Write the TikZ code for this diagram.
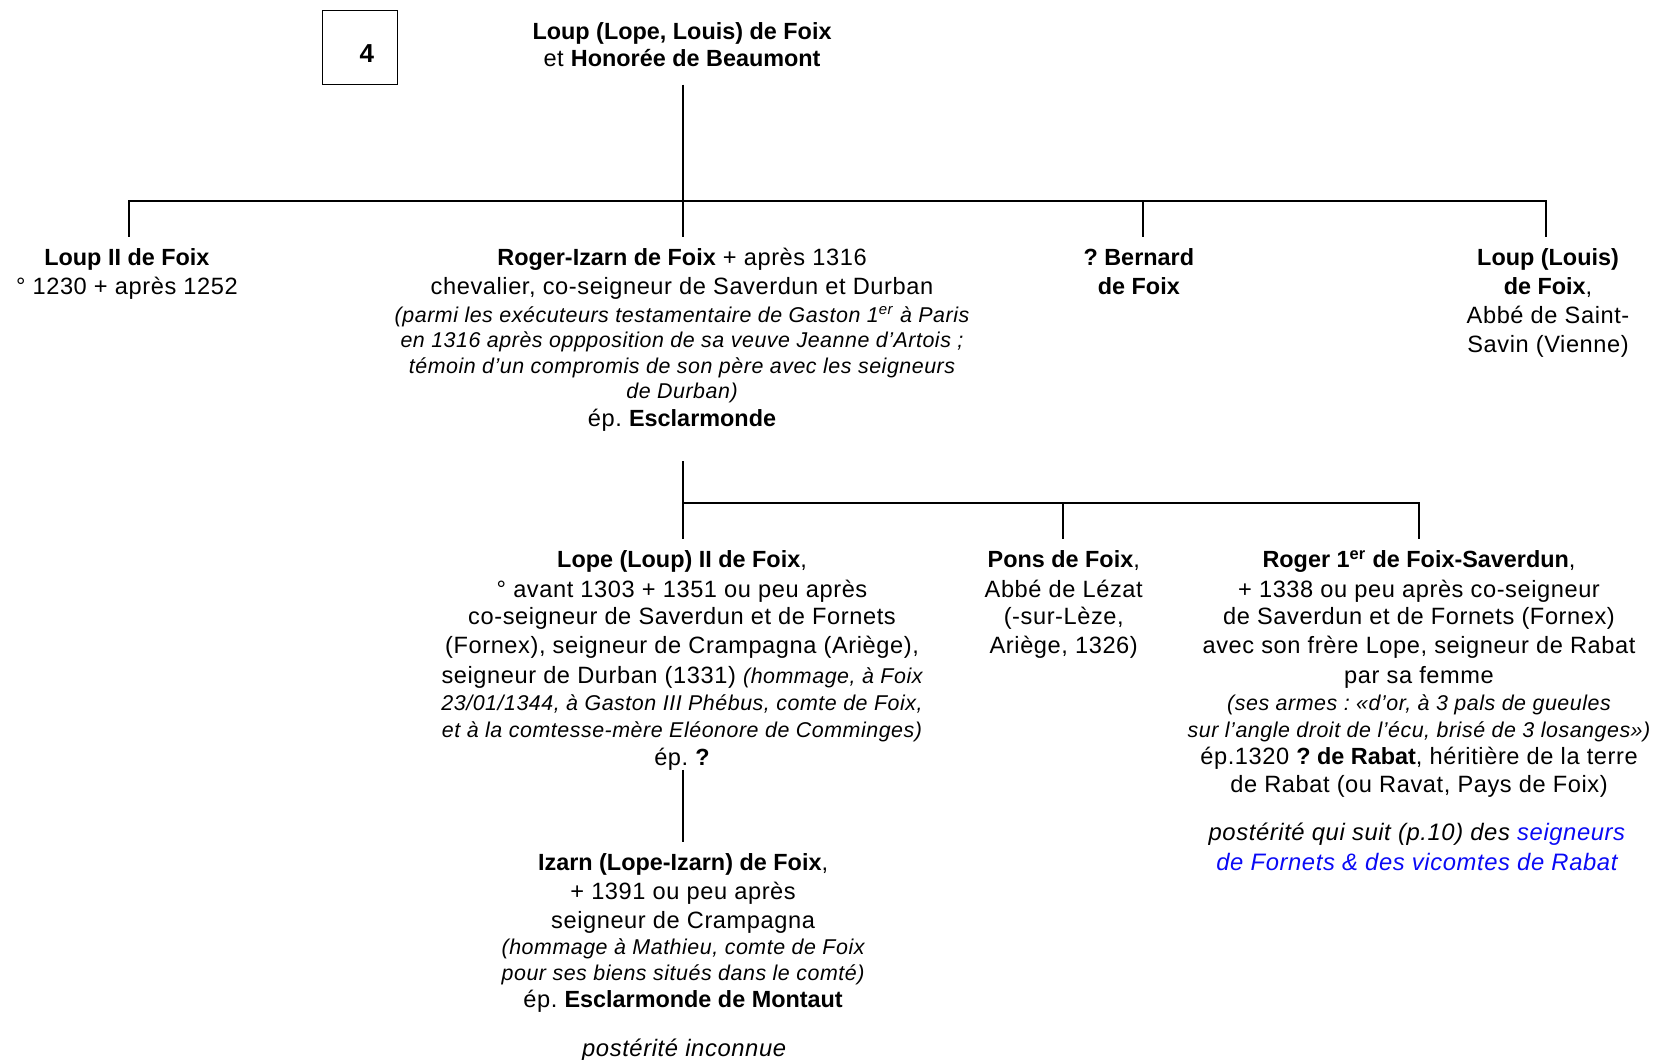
\documentclass[tikz,border=0pt]{standalone}
\usepackage{fontspec}
\setmainfont{Liberation Sans}[LetterSpace=2.5]
\newfontfamily\boldf{Liberation Sans}
\definecolor{linkblue}{RGB}{10,10,245}
\newcommand{\ital}[1]{{\fontsize{10.7}{12}\selectfont\itshape #1}}
\newcommand{\B}[1]{{\fontsize{11.7}{14}\boldf\bfseries #1}}
\newcommand{\fs}{\rule{0pt}{10pt}}
\frenchspacing
\tikzset{
  person/.style={anchor=north, align=center, inner sep=0pt,
    font=\fontsize{11.8}{14.3}\selectfont},
  tree/.style={line width=0.95pt, black},
  post/.style={anchor=north, align=center, inner sep=0pt,
    font=\fontsize{11.9}{14.8}\selectfont\itshape}
}
\begin{document}
\frenchspacing
\begin{tikzpicture}[x=0.52870pt,y=-0.52870pt]
\useasboundingbox (0,0) rectangle (1568,1002.4);
% page number box
\node[draw, line width=0.85pt, minimum width=37.5pt, minimum height=37pt, inner sep=0pt] (num) at (340.5,45) {};
\node[inner sep=0pt, font=\fontsize{13}{15}\boldf\bfseries] (numtxt) at (347,51) {4};
% parents
\node[person] (top) at (645,17.6) {\fs\B{Loup (Lope, Louis) de Foix}\\[-0.5pt] et \B{Honorée de Beaumont}};
% generation 1
\node[person] (loup2) at (120,231.6) {\fs\B{Loup II de Foix}\\[0.5pt]° 1230 + après 1252};
\node[person] (rogiz) at (645,231.6) {\fs\B{Roger-Izarn de Foix} + après 1316\\[0.5pt]
chevalier, co-seigneur de Saverdun et Durban\\[-0.5pt]
\ital{(parmi les exécuteurs testamentaire de Gaston 1\textsuperscript{er} à Paris}\\[-1.6pt]
\ital{en 1316 après oppposition de sa veuve Jeanne d’Artois ;}\\[-1.6pt]
\ital{témoin d’un compromis de son père avec les seigneurs}\\[-1.6pt]
\ital{de Durban)}\\[-0.5pt]
ép. \B{Esclarmonde}};
\node[person] (bern) at (1077,231.6) {\fs\B{? Bernard}\\[0.5pt]\B{de Foix}};
\node[person] (louis) at (1464,231.6) {\fs\B{Loup (Louis)}\\[0.5pt]\B{de Foix},\\Abbé de Saint-\\Savin (Vienne)};
% generation 2
\node[person] (lope) at (645,517.6) {\fs\B{Lope (Loup) II de Foix},\\[0.5pt]
° avant 1303 + 1351 ou peu après\\[-0.5pt]
co-seigneur de Saverdun et de Fornets\\
(Fornex), seigneur de Crampagna (Ariège),\\[0.5pt]
seigneur de Durban (1331) \ital{(hommage, à Foix}\\[-0.5pt]
\ital{23/01/1344, à Gaston III Phébus, comte de Foix,}\\[-1.05pt]
\ital{et à la comtesse-mère Eléonore de Comminges)}\\
ép. \B{?}};
\node[person] (pons) at (1006,517.6) {\fs\B{Pons de Foix},\\[0.5pt]Abbé de Lézat\\[-0.5pt](-sur-Lèze,\\Ariège, 1326)};
\node[person] (rog1) at (1342,517.6) {\fs\B{Roger 1\textsuperscript{er} de Foix-Saverdun},\\[0.5pt]
+ 1338 ou peu après co-seigneur\\[-0.5pt]
de Saverdun et de Fornets (Fornex)\\
avec son frère Lope, seigneur de Rabat\\[0.5pt]
par sa femme\\[-0.5pt]
\ital{(ses armes : «d’or, à 3 pals de gueules}\\[-1.05pt]
\ital{sur l’angle droit de l’écu, brisé de 3 losanges»)}\\[-0.5pt]
ép.1320 \B{? de Rabat}, héritière de la terre\\[-0.5pt]
de Rabat (ou Ravat, Pays de Foix)};
\node[post] (rog1post) at (1340,775.6) {\fs postérité qui suit (p.10) des \textcolor{linkblue}{seigneurs}\\
\textcolor{linkblue}{de Fornets \& des vicomtes de Rabat}};
% generation 3
\node[person] (izarn) at (646,803.6) {\fs\B{Izarn (Lope-Izarn) de Foix},\\[0.5pt]
+ 1391 ou peu après\\
seigneur de Crampagna\\[-1.05pt]
\ital{(hommage à Mathieu, comte de Foix}\\[-1.6pt]
\ital{pour ses biens situés dans le comté)}\\[-0.5pt]
ép. \B{Esclarmonde de Montaut}};
\node[post] (izpost) at (647,979.6) {\fs postérité inconnue};
% connector coordinates
\coordinate (p0) at (646,80);
\coordinate (b0) at (646,190);
\coordinate (bL) at (122,190);
\coordinate (bR) at (1462,190);
\coordinate (bB) at (1081,190);
\coordinate (d1) at (122,224);
\coordinate (d2) at (646,224);
\coordinate (d3) at (1081,224);
\coordinate (d4) at (1462,224);
\coordinate (q0) at (646,436);
\coordinate (c0) at (646,476);
\coordinate (cR) at (1342,476);
\coordinate (cP) at (1005,476);
\coordinate (e1) at (646,510);
\coordinate (e2) at (1005,510);
\coordinate (e3) at (1342,510);
\coordinate (r0) at (646,728);
\coordinate (r1) at (646,796);
% connectors
\draw[tree] (p0) -- (b0);
\draw[tree] (d1) -- (bL) -- (bR) -- (d4);
\draw[tree] (b0) -- (d2);
\draw[tree] (bB) -- (d3);
\draw[tree] (q0) -- (e1);
\draw[tree] (c0) -- (cR) -- (e3);
\draw[tree] (cP) -- (e2);
\draw[tree] (r0) -- (r1);
\end{tikzpicture}
\end{document}
